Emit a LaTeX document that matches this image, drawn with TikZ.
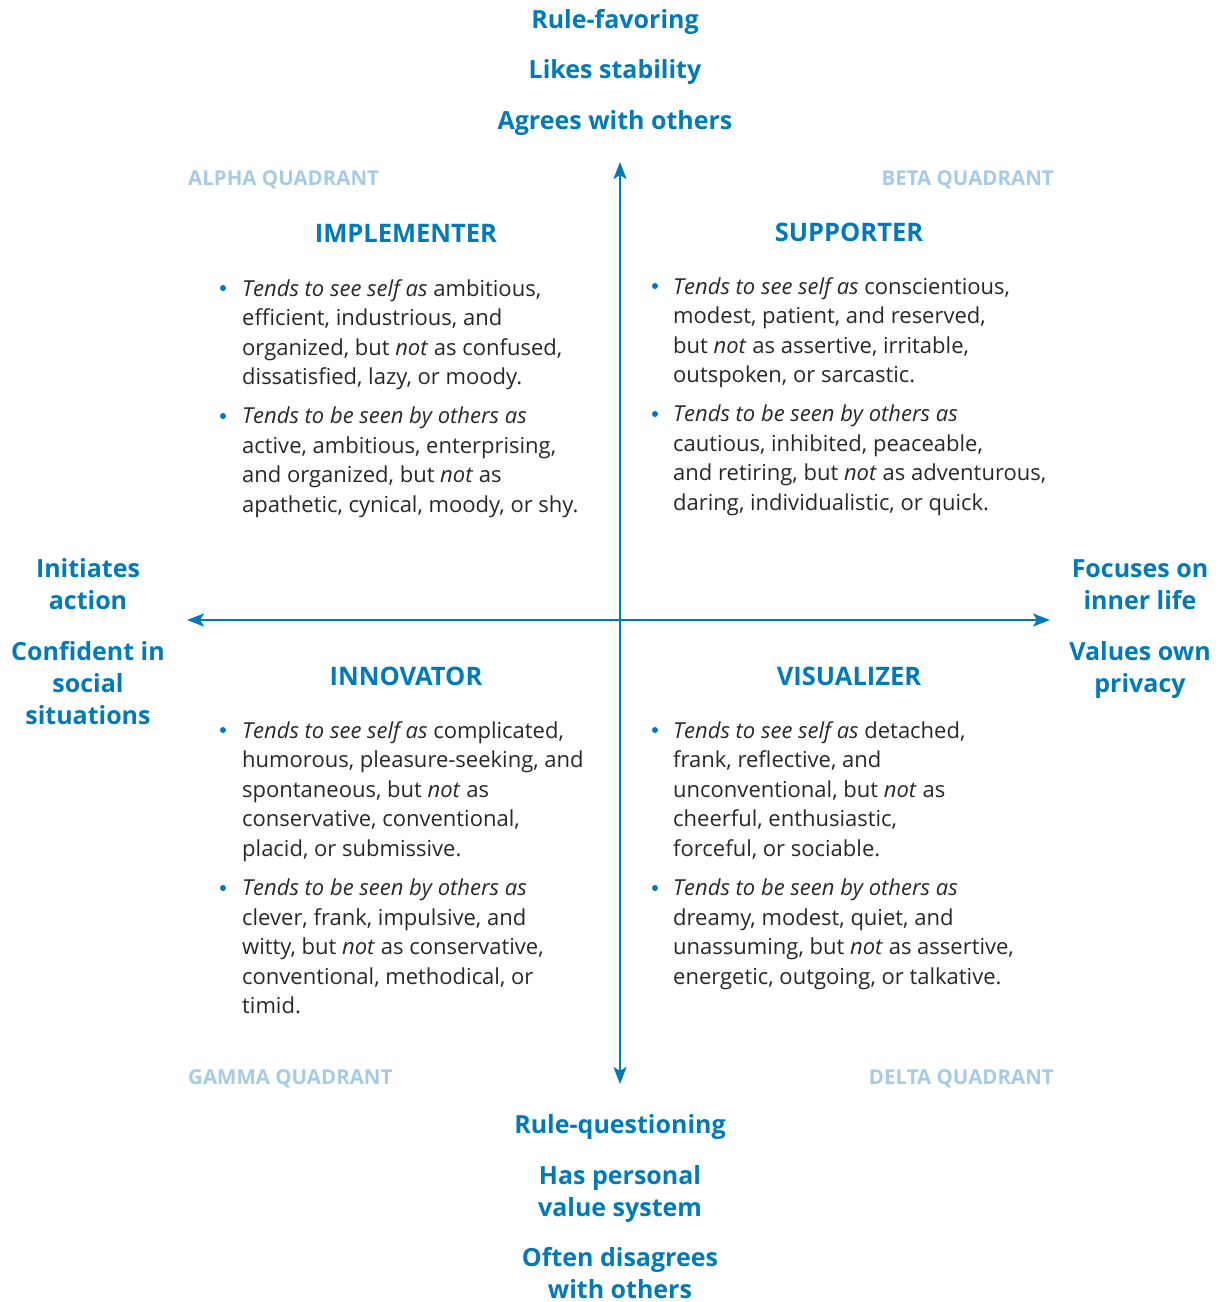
\documentclass[tikz,border=0pt]{standalone}
\usepackage{fontspec}
\setmainfont{Open Sans}
\usetikzlibrary{arrows.meta}
\definecolor{axisblue}{RGB}{0,122,185}
\definecolor{quadblue}{RGB}{166,203,230}
\definecolor{bodygray}{RGB}{40,40,40}
\tikzset{>={Stealth[width=13pt,length=17pt,inset=4pt]}}
\tikzset{
  axislabel/.style={text=axisblue, font=\fontsize{25}{32}\selectfont\bfseries, align=center, inner sep=0pt, anchor=north},
  quadlabel/.style={text=quadblue, font=\fontsize{20.5}{24}\selectfont\bfseries, inner sep=0pt},
  typelabel/.style={text=axisblue, font=\fontsize{25.5}{30}\selectfont\bfseries, inner sep=0pt, anchor=base},
  traits/.style={text=bodygray, font=\fontsize{22}{29.5}\selectfont, align=left, inner sep=0pt, anchor=north west},
  bulletdot/.style={fill=axisblue, circle, inner sep=0pt, minimum size=6pt},
}

\begin{document}
\begin{tikzpicture}[x=1pt,y=-1pt]
  \useasboundingbox (0,0) rectangle (1228,1302);

  \newcommand\Lx{242}% left text column
  \newcommand\Rx{673}% right text column
  \newcommand\Up{9}%   first line centre to node top

  %% axes
  \coordinate (top) at (620,162);
  \coordinate (bottom) at (620,1084);
  \coordinate (left) at (187,620);
  \coordinate (right) at (1050,620);
  \draw[<->, axisblue, line width=2.5pt] (top) -- (bottom);
  \draw[<->, axisblue, line width=2.5pt] (left) -- (right);

  %% axis ends
  \node[axislabel] (favor) at (615,19-10) {Rule-favoring};
  \node[axislabel] (stable) at (615,69-10) {Likes stability};
  \node[axislabel] (agree) at (615,120-10) {Agrees with others};

  \node[axislabel] (question) at (620,1124-10) {Rule-questioning};
  \node[axislabel] (values) at (620,1175-10) {Has personal\\value system};
  \node[axislabel] (disagree) at (620,1257-10) {Often disagrees\\with others};

  \node[axislabel] (action) at (88,568-10) {Initiates\\action};
  \node[axislabel] (social) at (88,651-10) {Confident in\\social\\situations};

  \node[axislabel] (inner) at (1140,569-10) {Focuses on\\inner life};
  \node[axislabel] (privacy) at (1140,651-10) {Values own\\privacy};

  %% quadrant names
  \node[quadlabel, anchor=base west] (alpha) at (188,185) {ALPHA QUADRANT};
  \node[quadlabel, anchor=base east] (beta) at (1054,185) {BETA QUADRANT};
  \node[quadlabel, anchor=base west] (gamma) at (188,1084) {GAMMA QUADRANT};
  \node[quadlabel, anchor=base east] (delta) at (1054,1084) {DELTA QUADRANT};

  %% alpha: implementer
  \node[typelabel] (implementer) at (406,242) {IMPLEMENTER};
  \node[bulletdot] (i1) at (223,288) {};
  \node[traits] (implself) at (\Lx,288-\Up) {\textit{Tends to see self as} ambitious,\\
    efficient, industrious, and\\
    organized, but \textit{not} as confused,\\
    dissatisfied, lazy, or moody.};
  \node[bulletdot] (i2) at (223,416) {};
  \node[traits] (implothers) at (\Lx,416-\Up) {\textit{Tends to be seen by others as}\\
    active, ambitious, enterprising,\\
    and organized, but \textit{not} as\\
    apathetic, cynical, moody, or shy.};

  %% beta: supporter
  \node[typelabel] (supporter) at (849,241) {SUPPORTER};
  \node[bulletdot] (s1) at (655,286) {};
  \node[traits] (suppself) at (\Rx,286-\Up) {\textit{Tends to see self as} conscientious,\\
    modest, patient, and reserved,\\
    but \textit{not} as assertive, irritable,\\
    outspoken, or sarcastic.};
  \node[bulletdot] (s2) at (655,414) {};
  \node[traits] (suppothers) at (\Rx,414-\Up) {\textit{Tends to be seen by others as}\\
    cautious, inhibited, peaceable,\\
    and retiring, but \textit{not} as adventurous,\\
    daring, individualistic, or quick.};

  %% gamma: innovator
  \node[typelabel] (innovator) at (406,685) {INNOVATOR};
  \node[bulletdot] (n1) at (223,730) {};
  \node[traits] (innoself) at (\Lx,730-\Up) {\textit{Tends to see self as} complicated,\\
    humorous, pleasure-seeking, and\\
    spontaneous, but \textit{not} as\\
    conservative, conventional,\\
    placid, or submissive.};
  \node[bulletdot] (n2) at (223,888) {};
  \node[traits] (innoothers) at (\Lx,888-\Up) {\textit{Tends to be seen by others as}\\
    clever, frank, impulsive, and\\
    witty, but \textit{not} as conservative,\\
    conventional, methodical, or\\
    timid.};

  %% delta: visualizer
  \node[typelabel] (visualizer) at (849,685) {VISUALIZER};
  \node[bulletdot] (v1) at (655,730) {};
  \node[traits] (visuself) at (\Rx,730-\Up) {\textit{Tends to see self as} detached,\\
    frank, reflective, and\\
    unconventional, but \textit{not} as\\
    cheerful, enthusiastic,\\
    forceful, or sociable.};
  \node[bulletdot] (v2) at (655,888) {};
  \node[traits] (visuothers) at (\Rx,888-\Up) {\textit{Tends to be seen by others as}\\
    dreamy, modest, quiet, and\\
    unassuming, but \textit{not} as assertive,\\
    energetic, outgoing, or talkative.};

\end{tikzpicture}
\end{document}
